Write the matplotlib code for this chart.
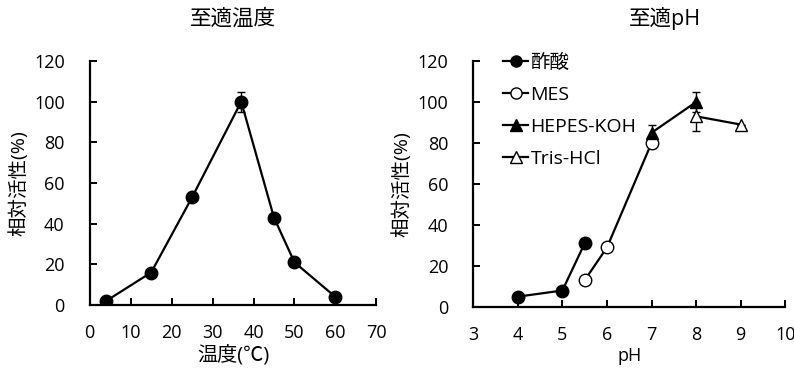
import matplotlib
matplotlib.use("Agg")
import matplotlib.pyplot as plt
from matplotlib.lines import Line2D

plt.rcParams['font.family'] = ['Open Sans', 'Noto Sans CJK JP', 'DejaVu Sans']

# 至適温度
temp = [4, 15, 25, 37, 45, 50, 60]
temp_act = [2, 16, 53, 100, 43, 21, 4]
temp_err = [0, 0, 0, 5, 0, 0, 0]

# 至適pH
acet_ph = [4, 5, 5.5]
acet_act = [5, 8, 31]
mes_ph = [5.5, 6, 7]
mes_act = [13, 29, 80]
hepes_ph = [7, 8]
hepes_act = [85, 100]
hepes_err = [4, 5]
tris_ph = [8, 9]
tris_act = [93, 89]
tris_err = [7, 0]

fig = plt.figure(figsize=(7.94, 3.72), dpi=100)
ax1 = fig.add_axes([0.113, 0.18, 0.361, 0.656])
ax2 = fig.add_axes([0.596, 0.175, 0.393, 0.661])

lw = 1.6
ms = 9

def style(ax):
    for s in ['top', 'right']:
        ax.spines[s].set_visible(False)
    for s in ['left', 'bottom']:
        ax.spines[s].set_linewidth(1.6)
    ax.tick_params(direction='in', width=1.4, length=5, labelsize=13)
    ax.tick_params(axis='y', pad=18)
    ax.tick_params(axis='x', pad=14)
    ax.set_ylim(0, 120)
    ax.set_yticks(range(0, 121, 20))
    ax.set_ylabel('相対活性(%)', fontsize=14, labelpad=4)

ax1.errorbar(temp, temp_act, yerr=temp_err, color='black', marker='o', ms=ms,
             lw=lw, capsize=3, elinewidth=1)
ax1.set_xlim(0, 70)
ax1.set_xticks(range(0, 71, 10))
style(ax1)
ax1.set_xlabel('温度(℃)', fontsize=14.5, labelpad=2)
ax1.set_title('至適温度', fontsize=15.5, pad=26)

ax2.errorbar(acet_ph, acet_act, color='black', marker='o', ms=ms, lw=lw)
ax2.errorbar(mes_ph, mes_act, color='black', marker='o', mfc='white', ms=ms,
             lw=lw)
ax2.errorbar(hepes_ph, hepes_act, yerr=hepes_err, color='black', marker='^',
             ms=ms, lw=lw, capsize=3, elinewidth=1)
ax2.errorbar(tris_ph, tris_act, yerr=tris_err, color='black', marker='^',
             mfc='white', ms=ms, lw=lw, capsize=3, elinewidth=1)
ax2.set_xlim(3, 10)
ax2.set_xticks(range(3, 11))
style(ax2)
ax2.set_xlabel('pH', fontsize=13, labelpad=2)
ax2.set_title('至適pH', fontsize=15.5, pad=26, x=0.615)

handles = [
    Line2D([], [], color='black', marker='o', ms=8, lw=lw),
    Line2D([], [], color='black', marker='o', mfc='white', ms=8, lw=lw),
    Line2D([], [], color='black', marker='^', ms=8, lw=lw),
    Line2D([], [], color='black', marker='^', mfc='white', ms=8, lw=lw),
]
labels = ['酢酸', 'MES', 'HEPES-KOH', 'Tris-HCl']
ax2.legend(handles, labels, loc='upper left', bbox_to_anchor=(0.04, 1.1),
           frameon=False, fontsize=14, handlelength=1.3, handletextpad=0.1,
           labelspacing=0.72)

fig.savefig('out.png', dpi=100)
